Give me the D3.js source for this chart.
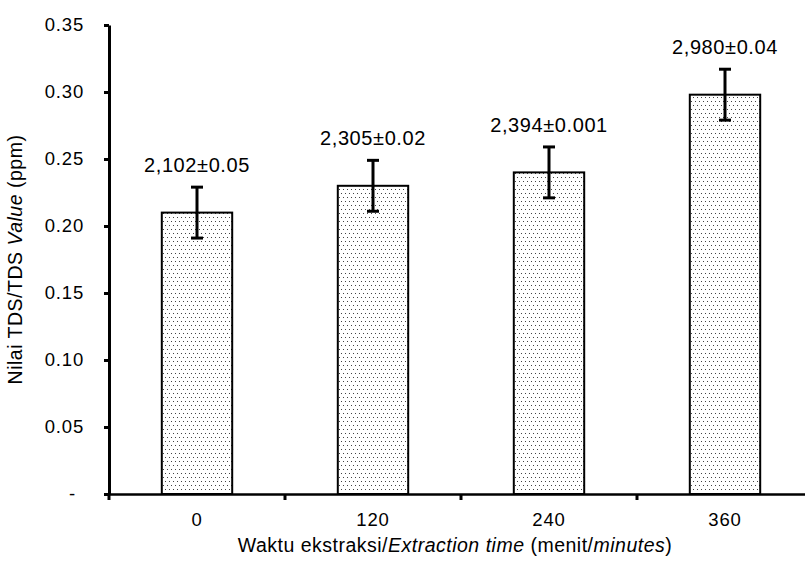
<!DOCTYPE html>
<html>
<head>
<meta charset="utf-8">
<script src="https://cdn.jsdelivr.net/npm/d3@7"></script>
<style>
  body { margin: 0; background: #fff; }
  text { font-family: "Liberation Sans", Arial, sans-serif; fill: #000; }
</style>
</head>
<body>
<div id="chart"></div>
<script>
// data
const waktu = ["0", "120", "240", "360"];
const nilaiTDS = [0.21, 0.23, 0.24, 0.298];
const galat = [0.019, 0.019, 0.019, 0.019];
const labelBatang = ["2,102±0.05", "2,305±0.02", "2,394±0.001", "2,980±0.04"];
const tickY = [0, 0.05, 0.10, 0.15, 0.20, 0.25, 0.30, 0.35];

const W = 805, H = 561;
const margin = { top: 25, right: -8, bottom: 67, left: 109 };

const svg = d3.select("#chart").append("svg")
  .attr("width", W)
  .attr("height", H);

// pola titik untuk isi batang
const pola = svg.append("defs").append("pattern")
  .attr("id", "titik")
  .attr("patternUnits", "userSpaceOnUse")
  .attr("width", 4)
  .attr("height", 8);
pola.append("rect").attr("width", 4).attr("height", 8).attr("fill", "#fff");
pola.append("rect").attr("x", 1).attr("y", 1).attr("width", 1).attr("height", 1).attr("fill", "#444");
pola.append("rect").attr("x", 3).attr("y", 5).attr("width", 1).attr("height", 1).attr("fill", "#444");

// skala
const x = d3.scaleBand().domain(waktu).range([margin.left, W - margin.right]).padding(0);
const y = d3.scaleLinear().domain([0, 0.35]).range([H - margin.bottom, margin.top]);

const lebarBatang = x.bandwidth() * 0.4;

// batang
svg.append("g").selectAll("rect")
  .data(nilaiTDS)
  .join("rect")
  .attr("x", (d, i) => x(waktu[i]) + x.bandwidth() / 2 - lebarBatang / 2)
  .attr("y", d => y(d))
  .attr("width", lebarBatang)
  .attr("height", d => y(0) - y(d))
  .attr("fill", "url(#titik)")
  .attr("stroke", "#000")
  .attr("stroke-width", 2);

// error bar
const eb = svg.append("g").attr("stroke", "#000").attr("stroke-width", 3);
nilaiTDS.forEach((d, i) => {
  const cx = x(waktu[i]) + x.bandwidth() / 2;
  eb.append("line").attr("x1", cx).attr("x2", cx).attr("y1", y(d - galat[i])).attr("y2", y(d + galat[i]));
  eb.append("line").attr("x1", cx - 6).attr("x2", cx + 6).attr("y1", y(d + galat[i])).attr("y2", y(d + galat[i]));
  eb.append("line").attr("x1", cx - 6).attr("x2", cx + 6).attr("y1", y(d - galat[i])).attr("y2", y(d - galat[i]));
});

// label di atas batang
svg.append("g").selectAll("text")
  .data(labelBatang)
  .join("text")
  .attr("x", (d, i) => x(waktu[i]) + x.bandwidth() / 2)
  .attr("y", (d, i) => y(nilaiTDS[i] + galat[i]) - 15)
  .attr("text-anchor", "middle")
  .style("font-size", "20px")
  .style("letter-spacing", "0.6px")
  .text(d => d);

// sumbu y
const sumbuY = svg.append("g")
  .attr("transform", `translate(${margin.left},0)`)
  .call(d3.axisLeft(y).tickValues(tickY).tickSize(5).tickPadding(20).tickSizeOuter(0)
    .tickFormat(d => d === 0 ? "-" : d.toFixed(2)));
sumbuY.select(".domain").attr("stroke-width", 3);
sumbuY.selectAll(".tick line").attr("stroke-width", 3);
sumbuY.selectAll(".tick text")
  .style("font-size", "18.5px")
  .style("letter-spacing", "0.8px")
  .attr("font-family", null);
sumbuY.selectAll(".tick text").filter(d => d === 0).attr("dx", "-8");

// sumbu x
const sumbuX = svg.append("g")
  .attr("transform", `translate(0,${y(0)})`)
  .call(d3.axisBottom(x).tickSize(0).tickPadding(19).tickSizeOuter(0));
sumbuX.select(".domain").attr("stroke-width", 2.5);
sumbuX.selectAll(".tick text")
  .style("font-size", "18.5px")
  .style("letter-spacing", "0.8px")
  .attr("font-family", null);

// garis tick x di batas kategori
svg.append("g").selectAll("line")
  .data(waktu)
  .join("line")
  .attr("x1", d => x(d)).attr("x2", d => x(d))
  .attr("y1", y(0)).attr("y2", y(0) + 6)
  .attr("stroke", "#000")
  .attr("stroke-width", 3);

// judul sumbu x
const judulX = svg.append("text")
  .attr("x", 455)
  .attr("y", 552)
  .attr("text-anchor", "middle")
  .style("font-size", "19.5px")
  .style("letter-spacing", "0.5px");
judulX.append("tspan").text("Waktu ekstraksi/");
judulX.append("tspan").style("font-style", "italic").text("Extraction time");
judulX.append("tspan").text(" (menit/");
judulX.append("tspan").style("font-style", "italic").text("minutes");
judulX.append("tspan").text(")");

// judul sumbu y
const judulY = svg.append("text")
  .attr("transform", `translate(22,${(y(0) + y(0.35)) / 2}) rotate(-90)`)
  .attr("text-anchor", "middle")
  .style("font-size", "19.5px")
  .style("letter-spacing", "0.5px");
judulY.append("tspan").text("Nilai TDS/TDS ");
judulY.append("tspan").style("font-style", "italic").text("Value");
judulY.append("tspan").text(" (ppm)");
</script>
</body>
</html>
